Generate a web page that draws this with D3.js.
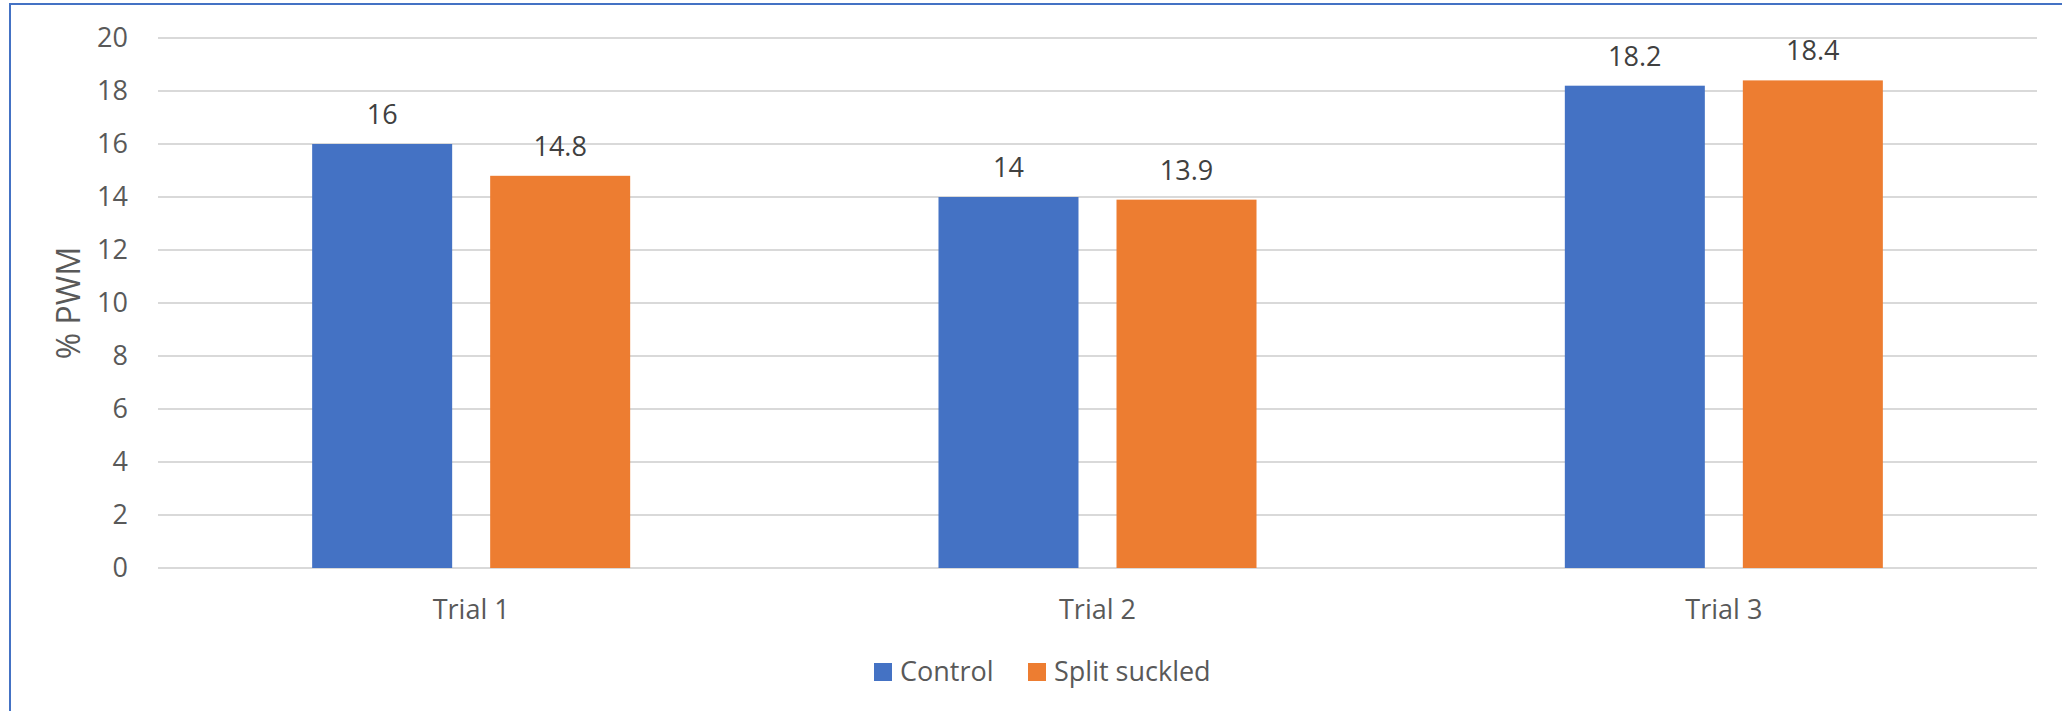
<!DOCTYPE html>
<html>
<head>
<meta charset="utf-8">
<script src="https://cdn.jsdelivr.net/npm/d3@7"></script>
<style>
  html, body { margin: 0; padding: 0; background: #fff; }
  svg { display: block; font-family: "Open Sans", "Liberation Sans", sans-serif; }
</style>
</head>
<body>
<svg id="chart" width="2062" height="711"></svg>
<script>
// Trials and series
const categories = ["Trial 1", "Trial 2", "Trial 3"];
const seriesNames = ["Control", "Split suckled"];
const controlValues = [16, 14, 18.2];
const splitSuckledValues = [14.8, 13.9, 18.4];
const yTicks = [0, 2, 4, 6, 8, 10, 12, 14, 16, 18, 20];
const seriesColors = ["#4472C4", "#ED7D31"];

const seriesValues = [controlValues, splitSuckledValues];
const rows = categories.map((c, i) => ({
  category: c,
  values: seriesNames.map((s, j) => ({ series: s, index: j, value: seriesValues[j][i] }))
}));

const svg = d3.select("#chart");
const W = 2062, H = 711;
const plot = { left: 158, right: 2037, top: 38, bottom: 568 };
const fontSize = 27;

// chart area border (open on the right and bottom edges)
svg.append("rect")
  .attr("x", 10).attr("y", 4)
  .attr("width", W + 20).attr("height", H + 20)
  .attr("fill", "none")
  .attr("stroke", "#4472C4")
  .attr("stroke-width", 2);

const x = d3.scaleBand().domain(categories).range([plot.left, plot.right]).padding(0);
const xInner = d3.scaleBand().domain(d3.range(seriesNames.length))
  .range([0, x.bandwidth()])
  .paddingInner(0.2135)
  .paddingOuter(0.866);
const y = d3.scaleLinear().domain([0, 20]).range([plot.bottom, plot.top]);

// horizontal gridlines
svg.append("g")
  .selectAll("line")
  .data(yTicks)
  .join("line")
  .attr("x1", plot.left).attr("x2", plot.right)
  .attr("y1", d => y(d)).attr("y2", d => y(d))
  .attr("stroke", "#d9d9d9")
  .attr("stroke-width", 2);

// y axis tick labels
const yAxis = d3.axisLeft(y).tickValues(yTicks).tickSize(0).tickPadding(0).tickFormat(d3.format("d"));
svg.append("g")
  .attr("transform", `translate(${plot.left - 30},0)`)
  .call(yAxis)
  .call(g => g.select(".domain").remove())
  .call(g => g.selectAll("text")
    .attr("font-family", "Open Sans, Liberation Sans, sans-serif")
    .attr("font-size", fontSize)
    .attr("fill", "#595959")
    .attr("dy", "0.3em"));

// y axis title
svg.append("text")
  .attr("transform", `translate(80,${(plot.top + plot.bottom) / 2}) rotate(-90)`)
  .attr("text-anchor", "middle")
  .attr("font-size", 32)
  .attr("fill", "#595959")
  .text("% PWM");

// bars
const groups = svg.append("g")
  .selectAll("g")
  .data(rows)
  .join("g")
  .attr("transform", d => `translate(${x(d.category)},0)`);

groups.selectAll("rect")
  .data(d => d.values)
  .join("rect")
  .attr("x", d => xInner(d.index))
  .attr("width", xInner.bandwidth())
  .attr("y", d => y(d.value))
  .attr("height", d => y(0) - y(d.value))
  .attr("fill", d => seriesColors[d.index]);

// value labels
groups.selectAll("text")
  .data(d => d.values)
  .join("text")
  .attr("x", d => xInner(d.index) + xInner.bandwidth() / 2)
  .attr("y", d => y(d.value) - 20)
  .attr("text-anchor", "middle")
  .attr("font-size", fontSize)
  .attr("fill", "#404040")
  .text(d => d.value);

// x axis category labels
const xAxis = d3.axisBottom(x).tickSize(0).tickPadding(0);
svg.append("g")
  .attr("transform", `translate(0,${plot.bottom})`)
  .call(xAxis)
  .call(g => g.select(".domain").remove())
  .call(g => g.selectAll("text")
    .attr("font-family", "Open Sans, Liberation Sans, sans-serif")
    .attr("font-size", fontSize)
    .attr("fill", "#595959")
    .attr("dy", null)
    .attr("y", 51));

// legend
const legendItems = [
  { name: seriesNames[0], color: seriesColors[0], x: 874 },
  { name: seriesNames[1], color: seriesColors[1], x: 1028 }
];
const legend = svg.append("g");
legend.selectAll("rect")
  .data(legendItems)
  .join("rect")
  .attr("x", d => d.x).attr("y", 663)
  .attr("width", 18).attr("height", 18)
  .attr("fill", d => d.color);
legend.selectAll("text")
  .data(legendItems)
  .join("text")
  .attr("x", d => d.x + 26)
  .attr("y", 681)
  .attr("font-size", fontSize)
  .attr("fill", "#595959")
  .text(d => d.name);
</script>
</body>
</html>
